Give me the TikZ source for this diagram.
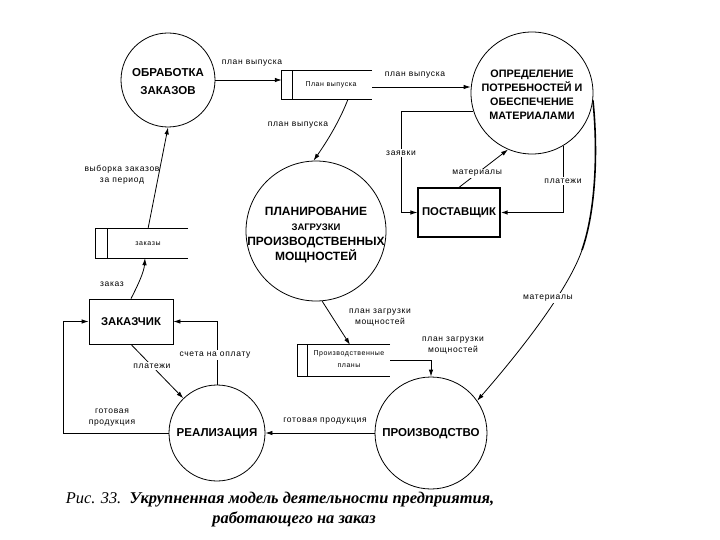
\documentclass[tikz,border=0pt]{standalone}
\usepackage{fontspec}
\setmainfont{Liberation Sans}
\newfontfamily\lblfont[LetterSpace=8]{Liberation Sans}
\newfontfamily\capfont{Liberation Serif}
\usetikzlibrary{arrows.meta}

\begin{document}
\begin{tikzpicture}[x=1pt,y=-1pt,
  every node/.style={inner sep=0pt},
  proc/.style={circle,draw,line width=0.8pt},
  ptext/.style={font=\bfseries\fontsize{11.5}{14}\selectfont,align=center},
  ent/.style={draw,line width=0.8pt,font=\bfseries\fontsize{11.3}{13}\selectfont},
  store/.style={},
  stxt/.style={font=\lblfont\fontsize{7}{12}\selectfont,align=center},
  lbl/.style={font=\lblfont\fontsize{8.5}{11}\selectfont,align=center},
  wl/.style={lbl,fill=white,inner sep=1.5pt},
  flow/.style={line width=0.8pt,-{Latex[length=7pt,width=4.5pt]}},
  line/.style={line width=0.8pt},
  sline/.style={line width=0.7pt}]

\useasboundingbox (0,0) rectangle (720,540);

% processes
\node[proc,minimum size=94pt] (c1) at (168,80) {};
\node[ptext,font=\bfseries\fontsize{11.5}{18}\selectfont] (t1) at (168,82) {ОБРАБОТКА\\ЗАКАЗОВ};

\node[proc,minimum size=122pt] (c5) at (532,93) {};
\node[ptext,font=\bfseries\fontsize{10.8}{14}\selectfont] (t5) at (532,95) {ОПРЕДЕЛЕНИЕ\\ПОТРЕБНОСТЕЙ И\\ОБЕСПЕЧЕНИЕ\\МАТЕРИАЛАМИ};

\node[proc,minimum size=140pt] (c2) at (316,231) {};
\node[ptext,font=\bfseries\fontsize{12}{15}\selectfont] (t2) at (316,235) {ПЛАНИРОВАНИЕ\\{\fontsize{9.5}{15}\selectfont ЗАГРУЗКИ}\\ПРОИЗВОДСТВЕННЫХ\\МОЩНОСТЕЙ};

\node[proc,minimum size=96pt] (c3) at (217,433) {};
\node[ptext] (t3) at (217,434) {РЕАЛИЗАЦИЯ};

\node[proc,minimum size=112pt] (c4) at (431,433) {};
\node[ptext] (t4) at (431,434) {ПРОИЗВОДСТВО};

% external entities
\node[ent,minimum width=84pt,minimum height=45pt] (zak) at (131,321.5) {ЗАКАЗЧИК};
\node[ent,line width=1.2pt,minimum width=82pt,minimum height=49pt] (sup) at (459,212.5) {ПОСТАВЩИК};

% stores
\node[store,minimum width=90pt,minimum height=28pt] (s1) at (327,85) {};
\node[stxt] (s1t) at (331,85) {План выпуска};
\draw[sline] (s1.north east) -- (s1.north west) -- (s1.south west) -- (s1.south east);
\draw[sline] ([xshift=11pt]s1.north west) -- ([xshift=11pt]s1.south west);

\node[store,minimum width=92pt,minimum height=29pt] (s2) at (142,243.5) {};
\node[stxt] (s2t) at (148,244) {заказы};
\draw[sline] (s2.north east) -- (s2.north west) -- (s2.south west) -- (s2.south east);
\draw[sline] ([xshift=12pt]s2.north west) -- ([xshift=12pt]s2.south west);

\node[store,minimum width=92pt,minimum height=31pt] (s3) at (344,360.5) {};
\node[stxt] (s3t) at (349,359.5) {Производственные\\планы};
\draw[sline] (s3.north east) -- (s3.north west) -- (s3.south west) -- (s3.south east);
\draw[sline] ([xshift=10pt]s3.north west) -- ([xshift=10pt]s3.south west);

% flows
\draw[flow] (c1.east) -- (c1.east -| s1.west);
\node[lbl] (l1) at (252,63) {план выпуска};

\draw[flow] ([yshift=-2pt]s1.east) -- ([yshift=-2pt]s1.east -| c5.west);
\node[lbl] (l2) at (415,75) {план выпуска};

\draw[flow] ([xshift=21pt]s1.south) .. controls (340,120) and (328,140) .. (c2.92);
\node[lbl] (l3) at (298,125) {план выпуска};

\coordinate (zv) at (401,212.5);
\draw[flow] (c5.197) -| (zv) -- (sup.west);
\node[wl] (lz) at (401,153) {заявки};

\coordinate (pl) at (c5.-59 |- sup.east);
\draw[line] (c5.-59) -- (pl);
\draw[flow,line width=1.5pt] (pl) -- (sup.east);
\node[wl] (lp) at (563,181) {платежи};

\draw[flow] (sup.north) -- node[wl,pos=0.37] (lm) {материалы} (c5.-113);

\coordinate (m1) at (582,250);
\draw[line width=1.6pt] (c5.-7) .. controls (598,150) and (596,210) .. (m1);
\draw[flow] (m1) .. controls (570,285) and (530,340) .. (c4.35);
\node[wl] (lmat) at (548,298) {материалы};

\draw[flow] ([xshift=6pt]s2.north) -- (c1.south);
\node[lbl] (lv) at (122,175) {выборка заказов\\за период};

\draw[flow] (zak.north) .. controls (138,285) and (144,272) .. ([xshift=3pt]s2.south);
\node[lbl] (lzk) at (112,284) {заказ};

\draw[flow] (c3.north) |- (zak.east);
\node[wl] (lsch) at (215,355) {счета на оплату};

\draw[flow] (zak.south) -- node[wl,pos=0.4] (lpl) {платежи} (c3);

\coordinate (gp) at (63,433);
\draw[flow] (c3.west) -- (gp) |- (zak.west);
\node[lbl] (lgp) at (112,418) {готовая\\продукция};

\draw[flow] (c4.west) -- (c3.east);
\node[lbl] (lgp2) at (325,421) {готовая продукция};

\draw[flow] (c2.-85) -- ([xshift=6pt]s3.north);
\node[lbl] (lz1) at (380,317.5) {план загрузки\\мощностей};

\draw[flow] (s3.east) -| (c4.north);
\node[lbl] (lz2) at (453,346) {план загрузки\\мощностей};

% caption
\node[font=\capfont\itshape\fontsize{16.4}{19}\selectfont] (cap1) at (280,500) {Рис. 33.\ \ {\bfseries Укрупненная модель деятельности предприятия,}};
\node[font=\capfont\itshape\bfseries\fontsize{16.4}{19}\selectfont] (cap2) at (294,519) {работающего на заказ};

\end{tikzpicture}
\end{document}
